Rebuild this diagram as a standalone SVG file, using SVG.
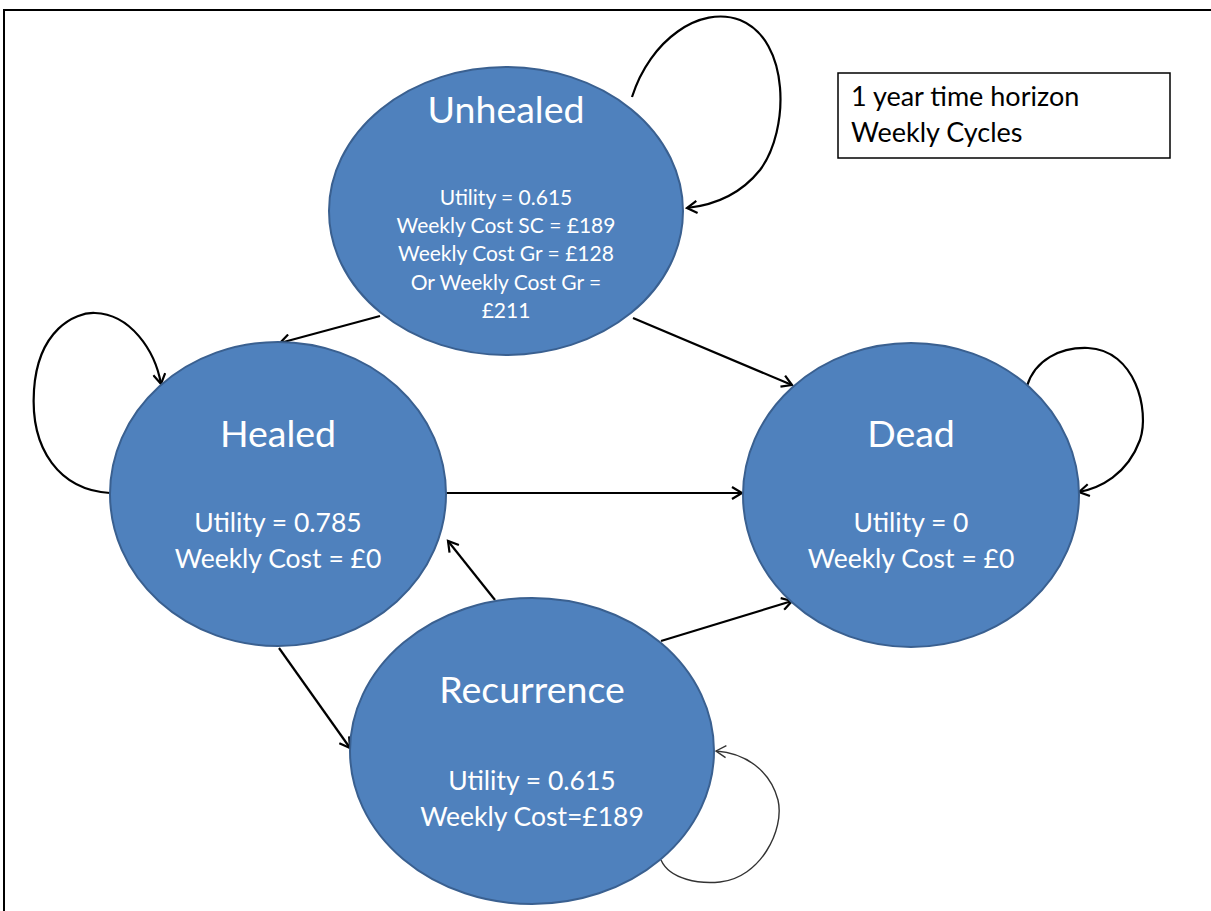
<svg xmlns="http://www.w3.org/2000/svg" width="1211" height="911" viewBox="0 0 1211 911">
<style>
.node{fill:#4F81BD;stroke:#3A6090;stroke-width:2}
.t{font-family:Lato,"Open Sans","Liberation Sans",sans-serif;fill:#FFFFFF;text-anchor:middle}
.title{font-size:37.5px}
.sm{font-size:21px}
.md{font-size:26.5px}
.c{fill:none;stroke:#000;stroke-width:2.2}
.thin{stroke:#333;stroke-width:1.4}
.box{font-family:Lato,"Open Sans","Liberation Sans",sans-serif;font-size:27px;fill:#000}
</style>
<defs>
<marker id="a" markerWidth="14" markerHeight="14" refX="11" refY="7" orient="auto" markerUnits="userSpaceOnUse">
<polyline points="1,1 11,7 1,13" fill="none" stroke="#000" stroke-width="2.2"/>
</marker>
<marker id="a2" markerWidth="14" markerHeight="14" refX="11" refY="7" orient="auto" markerUnits="userSpaceOnUse">
<polyline points="1,1 11,7 1,13" fill="none" stroke="#333" stroke-width="1.4"/>
</marker>
</defs>
<rect width="1211" height="911" fill="#fff"/>
<path d="M4 911 V10 H1211" fill="none" stroke="#000" stroke-width="2"/>
<g id="connectors">
<line class="c" x1="380" y1="316" x2="280" y2="343" marker-end="url(#a)"/>
<line class="c" x1="633" y1="318" x2="792" y2="385" marker-end="url(#a)"/>
<line class="c" x1="446" y1="493" x2="742" y2="493" marker-end="url(#a)"/>
<line class="c" x1="495" y1="600" x2="448" y2="541" marker-end="url(#a)"/>
<line class="c" x1="279" y1="648" x2="350" y2="748" marker-end="url(#a)"/>
<line class="c" x1="661" y1="641" x2="792" y2="601" marker-end="url(#a)"/>
<path class="c" d="M632 97 C650 40 700 5 740 20 C790 40 790 130 760 170 C740 195 715 205 687 208" marker-end="url(#a)"/>
<path class="c" d="M110 493 C60 490 30 450 34 390 C38 330 75 312 95 313 C130 314 155 350 161 384" marker-end="url(#a)"/>
<path class="c" d="M1027 386 C1035 360 1060 347 1088 348 C1135 350 1150 410 1140 440 C1127 475 1100 488 1079 492" marker-end="url(#a)"/>
<path class="c thin" d="M661 860 C670 880 700 884 720 882 C760 878 785 830 778 800 C770 770 745 753 716 751" marker-end="url(#a2)"/>
</g>
<g id="unhealed">
<ellipse class="node" cx="506" cy="211" rx="177" ry="144"/>
<text class="t title" x="506" y="123">Unhealed</text>
<text class="t sm" x="506" y="205">Utility = 0.615</text>
<text class="t sm" x="506" y="233">Weekly Cost SC = £189</text>
<text class="t sm" x="506" y="261">Weekly Cost Gr = £128</text>
<text class="t sm" x="506" y="290">Or Weekly Cost Gr =</text>
<text class="t sm" x="506" y="318">£211</text>
</g>
<g id="healed">
<ellipse class="node" cx="278" cy="494" rx="168" ry="152"/>
<text class="t title" x="278" y="447">Healed</text>
<text class="t md" x="278" y="532">Utility = 0.785</text>
<text class="t md" x="278" y="568">Weekly Cost = £0</text>
</g>
<g id="dead">
<ellipse class="node" cx="911" cy="495" rx="168" ry="152"/>
<text class="t title" x="911" y="447">Dead</text>
<text class="t md" x="911" y="532">Utility = 0</text>
<text class="t md" x="911" y="568">Weekly Cost = £0</text>
</g>
<g id="recurrence">
<ellipse class="node" cx="532" cy="751" rx="182" ry="153"/>
<text class="t title" x="532" y="703">Recurrence</text>
<text class="t md" x="532" y="790">Utility = 0.615</text>
<text class="t md" x="532" y="826">Weekly Cost=£189</text>
</g>
<g id="info">
<rect x="838" y="73" width="332" height="85" fill="#fff" stroke="#000" stroke-width="1.5"/>
<text class="box" x="851" y="106">1 year time horizon</text>
<text class="box" x="851" y="142">Weekly Cycles</text>
</g>
</svg>
